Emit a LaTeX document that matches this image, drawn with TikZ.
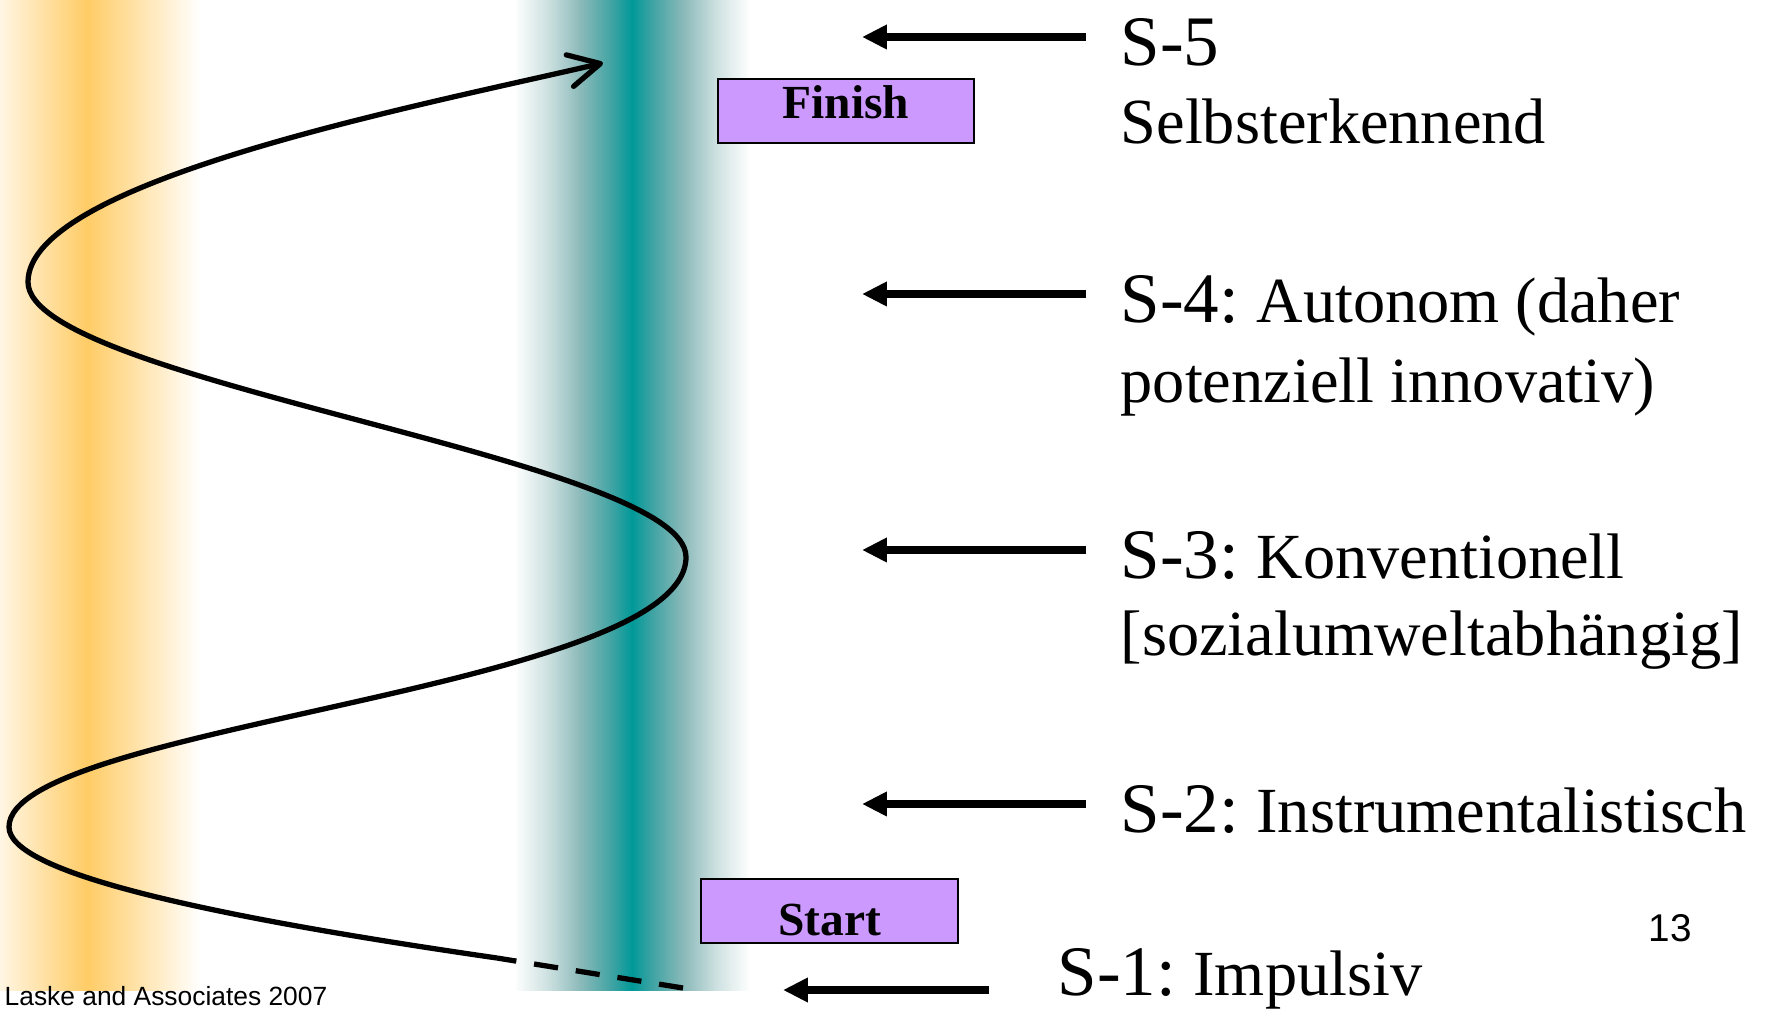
\documentclass[tikz,border=0pt]{standalone}
\usepackage{fontspec}
\setmainfont{Liberation Serif}
\newfontfamily\arialfont{Liberation Sans}
\usetikzlibrary{arrows.meta,positioning}
\definecolor{ochre}{HTML}{FFCC66}
\definecolor{tealcore}{HTML}{009999}
\definecolor{tealdeep}{RGB}{60,162,162}
\definecolor{tealgrey}{RGB}{140,186,186}
\definecolor{tealpale}{RGB}{205,224,224}
\definecolor{lilac}{HTML}{CC99FF}
\pgfdeclarehorizontalshading{ochreband}{100bp}{color(0bp)=(ochre!18); color(25bp)=(ochre!18); color(46.75bp)=(ochre); color(75bp)=(white); color(100bp)=(white)}
\pgfdeclarehorizontalshading{tealband}{100bp}{color(0bp)=(white); color(25bp)=(white); color(32.25bp)=(tealpale); color(39bp)=(tealgrey); color(46bp)=(tealdeep); color(50bp)=(tealcore); color(54bp)=(tealdeep); color(61bp)=(tealgrey); color(67.75bp)=(tealpale); color(75bp)=(white); color(100bp)=(white)}

\begin{document}
\begin{tikzpicture}[x=0.01cm,y=-0.01cm,
  level/.style={font=\fontsize{20.2pt}{24pt}\selectfont,inner sep=0pt,text height=0.56cm,text depth=0pt,anchor=base west},
  desc/.style={font=\fontsize{18.3pt}{22pt}\selectfont,inner sep=0pt,anchor=base west},
  pointer/.style={-{Triangle[length=7.1pt,width=6.6pt]},line width=2.3pt,shorten <=0.34cm},
  flag/.style={draw=black,line width=0.6pt,fill=lilac,minimum width=2.56cm,minimum height=0.64cm,inner sep=0pt,font=\fontsize{13.5pt}{16pt}\selectfont\bfseries},
  trail/.style={line width=1.5pt},
  small/.style={font=\arialfont\fontsize{#1}{#1}\selectfont,inner sep=0pt,anchor=base west}]
\useasboundingbox (0,0) rectangle (1768,1008);
% colour bands
\shade[shading=ochreband] (0,0) rectangle (200,990);
\shade[shading=tealband] (514,0) rectangle (750,990);
% stages
\node[level] (s5) at (1120,65) {S-5};
\node[desc] (d5) at ([yshift=-0.78cm]s5.base west) {Selbsterkennend};
\node[level] (s4) at (1120,322) {S-4:};
\node[desc,base right=0.16cm of s4] (d4) {Autonom (daher};
\node[desc] (d4b) at ([yshift=-0.80cm]s4.base west) {potenziell innovativ)};
\node[level] (s3) at (1120,578) {S-3:};
\node[desc,base right=0.16cm of s3] (d3) {Konventionell};
\node[desc] (d3b) at ([yshift=-0.77cm]s3.base west) {[sozialumweltabhängig]};
\node[level] (s2) at (1120,832) {S-2:};
\node[desc,base right=0.16cm of s2] (d2) {Instrumentalistisch};
\node[level,text height=0.1cm] (s1) at (1057,995) {S-1:};
\node[desc,base right=0.16cm of s1] (d1) {Impulsiv};
\coordinate (rail) at (862,0);
\coordinate (lowrail) at (783,0);
\foreach \n in {5,4,3,2}
  \draw[pointer] (s\n.west) -- (s\n.west -| rail);
\draw[pointer,shorten <=0.68cm] (s1.west) -- (s1.west -| lowrail);
\node[flag,text height=0.34cm,text depth=0.2cm] (finish) at (846,111) {Finish};
\node[flag,text height=0.5cm,text depth=0.02cm] (start) at (829.5,911) {Start};
% zigzag path from start to finish
\coordinate (p0) at (683,988);
\coordinate (p1) at (497,958);
\coordinate (t1) at (9,827);
\coordinate (t2) at (686,557);
\coordinate (t3) at (28,282);
\coordinate (goal) at (603,63);
\draw[trail,dash pattern=on 6.9pt off 5.1pt] (p0) -- (p1);
\draw[trail,-{Straight Barb[length=8.9pt,width=9.2pt,round]}] (p1)
  .. controls (200,915) and (9,872) .. (t1)
  .. controls (9,725) and (686,690) .. (t2)
  .. controls (686,458) and (28,382) .. (t3)
  .. controls (28,182) and (408,108) .. (goal);
\node[small=7.5pt] (credit) at (4,1005) {Laske and Associates 2007};
\node[small=11pt] (pageno) at (1648,941) {13};
\end{tikzpicture}
\end{document}
